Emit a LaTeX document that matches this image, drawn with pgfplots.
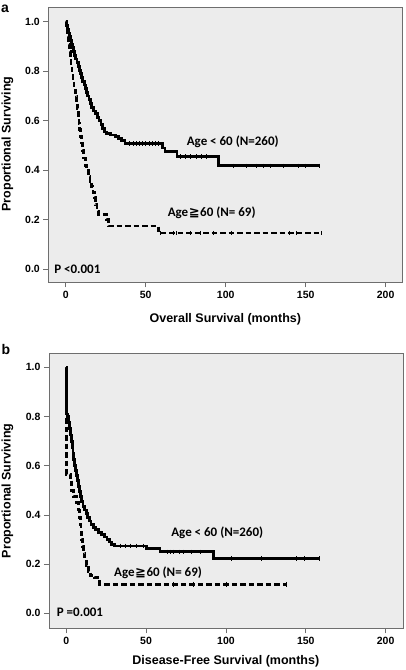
\documentclass[border=0pt]{standalone}
\usepackage{pgfplots}
\pgfplotsset{compat=1.18}
\usepackage{fontspec}
\setmainfont{Liberation Sans}
\newfontfamily\calib{Carlito}
\newfontfamily\dejavu{DejaVu Sans}
\definecolor{bggray}{RGB}{236,236,236}
\definecolor{boxgray}{RGB}{110,110,110}

\pgfplotstableread{
x y
0 1.000
0.5 0.985
1.0 0.970
1.6 0.955
2.2 0.940
2.8 0.925
3.5 0.910
4.2 0.895
4.8 0.880
5.5 0.865
6.2 0.850
7.0 0.835
7.8 0.820
8.6 0.805
9.3 0.790
10.0 0.775
10.7 0.760
11.5 0.745
12.2 0.730
13.0 0.715
13.7 0.700
14.5 0.685
15.3 0.670
16.2 0.655
17.3 0.640
18.5 0.628
19.8 0.615
20.8 0.600
22.0 0.585
23.0 0.570
24.2 0.555
25.5 0.548
28.0 0.543
31.0 0.537
33.0 0.530
35.0 0.520
37.0 0.509
60.5 0.490
62.0 0.476
69.5 0.455
95.4 0.418
158.5 0.418
}\aYoung
\pgfplotstableread{
x y
0 1.000
0.8 0.970
1.3 0.940
1.8 0.910
2.3 0.880
2.8 0.850
3.3 0.820
3.9 0.790
4.5 0.760
5.2 0.730
6.0 0.700
6.8 0.680
7.3 0.650
7.8 0.620
8.3 0.590
8.8 0.565
9.3 0.535
9.8 0.510
10.5 0.480
11.3 0.450
12.2 0.420
13.2 0.400
14.2 0.375
15.2 0.355
16.2 0.335
17.0 0.310
17.8 0.290
18.6 0.260
19.5 0.235
20.5 0.222
25.5 0.200
26.8 0.175
58.0 0.146
160.0 0.146
}\aOld
\pgfplotstableread{
x y
40 0.509
42 0.509
44 0.509
46 0.509
48 0.509
50 0.509
52 0.509
54 0.509
56 0.509
58 0.509
71.5 0.455
74.6 0.455
77.7 0.455
81.9 0.455
85.0 0.455
88.1 0.455
104.8 0.418
113.1 0.418
119.4 0.418
123.5 0.418
127.7 0.418
136.0 0.418
145.4 0.418
149.6 0.418
158.5 0.418
}\aYoungCens
\pgfplotstableread{
x y
59 0.146
67 0.146
69 0.146
77.7 0.146
84 0.146
92 0.146
103.8 0.146
140 0.146
144.4 0.146
160 0.146
}\aOldCens
\pgfplotstableread{
x y
0 1.000
0.2 0.810
1.0 0.800
1.6 0.775
2.2 0.750
2.7 0.725
3.2 0.700
3.7 0.675
4.2 0.650
4.7 0.625
5.2 0.600
5.8 0.580
6.4 0.560
7.0 0.540
7.6 0.515
8.3 0.495
9.0 0.475
9.7 0.455
10.5 0.435
11.5 0.420
12.5 0.405
13.5 0.390
14.5 0.375
15.5 0.360
17.0 0.350
18.5 0.340
20.0 0.330
22.0 0.320
24.0 0.310
25.5 0.300
27.0 0.290
28.5 0.280
30.0 0.274
50.5 0.264
58.7 0.250
92.0 0.222
158.2 0.222
}\bYoung
\pgfplotstableread{
x y
0 1.000
0.05 0.790
0.15 0.565
2.6 0.540
3.5 0.500
4.5 0.475
6.5 0.450
7.6 0.420
8.2 0.390
8.8 0.360
9.3 0.330
9.8 0.300
10.3 0.270
10.9 0.245
11.6 0.220
12.5 0.195
13.8 0.170
15.2 0.155
17.5 0.145
21.0 0.118
138.0 0.118
}\bOld
\pgfplotstableread{
x y
34 0.274
37 0.274
40 0.274
44 0.274
48 0.274
63 0.250
65 0.250
67 0.250
71 0.250
73 0.250
78 0.250
84 0.250
103.6 0.222
121.9 0.222
144.3 0.222
148.8 0.222
158.2 0.222
}\bYoungCens
\pgfplotstableread{
x y
67 0.118
79.5 0.118
100.4 0.118
138 0.118
}\bOldCens

\pgfplotsset{
  kmstyle/.style={
    scale only axis,
    axis background/.style={fill=bggray},
    axis line style={draw=boxgray, line width=0.8pt},
    xtick={0,50,100,150,200}, xticklabels={0,50,100,150,200},
    ytick={0,0.2,0.4,0.6,0.8,1.0}, yticklabels={0.0,0.2,0.4,0.6,0.8,1.0},
    tick align=outside, major tick length=5pt,
    tick style={draw=boxgray, line width=0.8pt},
    xtick pos=bottom, ytick pos=left,
    ticklabel style={font=\bfseries\fontsize{10.5}{12}\selectfont},
  },
  young/.style={black, line width=2.8pt, const plot},
  old/.style={black, line width=2.8pt, const plot, dash pattern=on 5.5pt off 3pt},
  cens/.style={only marks, mark=|, mark size=2.3pt, black, mark options={line width=0.6pt}},
}

\begin{document}
\begin{tikzpicture}
% panel a
\begin{axis}[kmstyle,
  at={(48.3pt,-282.3pt)}, anchor=south west, width=354pt, height=275pt,
  xmin=-10.9, xmax=210.4, ymin=-0.053, ymax=1.059]
\addplot[young] table {\aYoung};
\addplot[old] table {\aOld};
\addplot[cens] table {\aYoungCens};
\addplot[cens] table {\aOldCens};
\node[anchor=west, font=\calib\bfseries\fontsize{13}{15}\selectfont, inner sep=0pt] at (axis cs:75.6,0.516) {Age < 60 (N=260)};
\node[anchor=west, font=\calib\bfseries\fontsize{13}{15}\selectfont, inner sep=0pt] at (axis cs:63.7,0.229) {Age\kern0.5pt{\dejavu≧}\kern0.5pt60 (N= 69)};
\node[anchor=west, font=\calib\bfseries\fontsize{13}{15}\selectfont, inner sep=0pt] at (axis cs:-7.3,0.0) {P <0.001};
\end{axis}
\node[font=\bfseries\fontsize{14}{16}\selectfont] at (5pt,-8.5pt) {a};
\node[rotate=90, font=\bfseries\fontsize{12.5}{14}\selectfont] at (7.5pt,-144pt) {Proportional Surviving};
\node[font=\bfseries\fontsize{12.5}{14}\selectfont] at (225.3pt,-319pt) {Overall Survival (months)};
% panel b
\begin{axis}[kmstyle,
  at={(49pt,-628.3pt)}, anchor=south west, width=354.5pt, height=275pt,
  xmin=-10.8, xmax=211.2, ymin=-0.061, ymax=1.057]
\addplot[young] table {\bYoung};
\addplot[old] table {\bOld};
\addplot[cens] table {\bYoungCens};
\addplot[cens] table {\bOldCens};
\node[anchor=west, font=\calib\bfseries\fontsize{13}{15}\selectfont, inner sep=0pt] at (axis cs:65.7,0.329) {Age < 60 (N=260)};
\node[anchor=west, font=\calib\bfseries\fontsize{13}{15}\selectfont, inner sep=0pt] at (axis cs:29.9,0.164) {Age\kern0.5pt{\dejavu≧}\kern0.5pt60 (N= 69)};
\node[anchor=west, font=\calib\bfseries\fontsize{13}{15}\selectfont, inner sep=0pt] at (axis cs:-6,0.004) {P =0.001};
\end{axis}
\node[font=\bfseries\fontsize{14}{16}\selectfont] at (5.8pt,-349pt) {b};
\node[rotate=90, font=\bfseries\fontsize{12.5}{14}\selectfont] at (7.5pt,-490.8pt) {Proportional Surviving};
\node[font=\bfseries\fontsize{12.5}{14}\selectfont] at (225.8pt,-661pt) {Disease-Free Survival (months)};
\pgfresetboundingbox
\useasboundingbox (0pt,0pt) rectangle (406pt,-670pt);
\end{tikzpicture}
\end{document}
